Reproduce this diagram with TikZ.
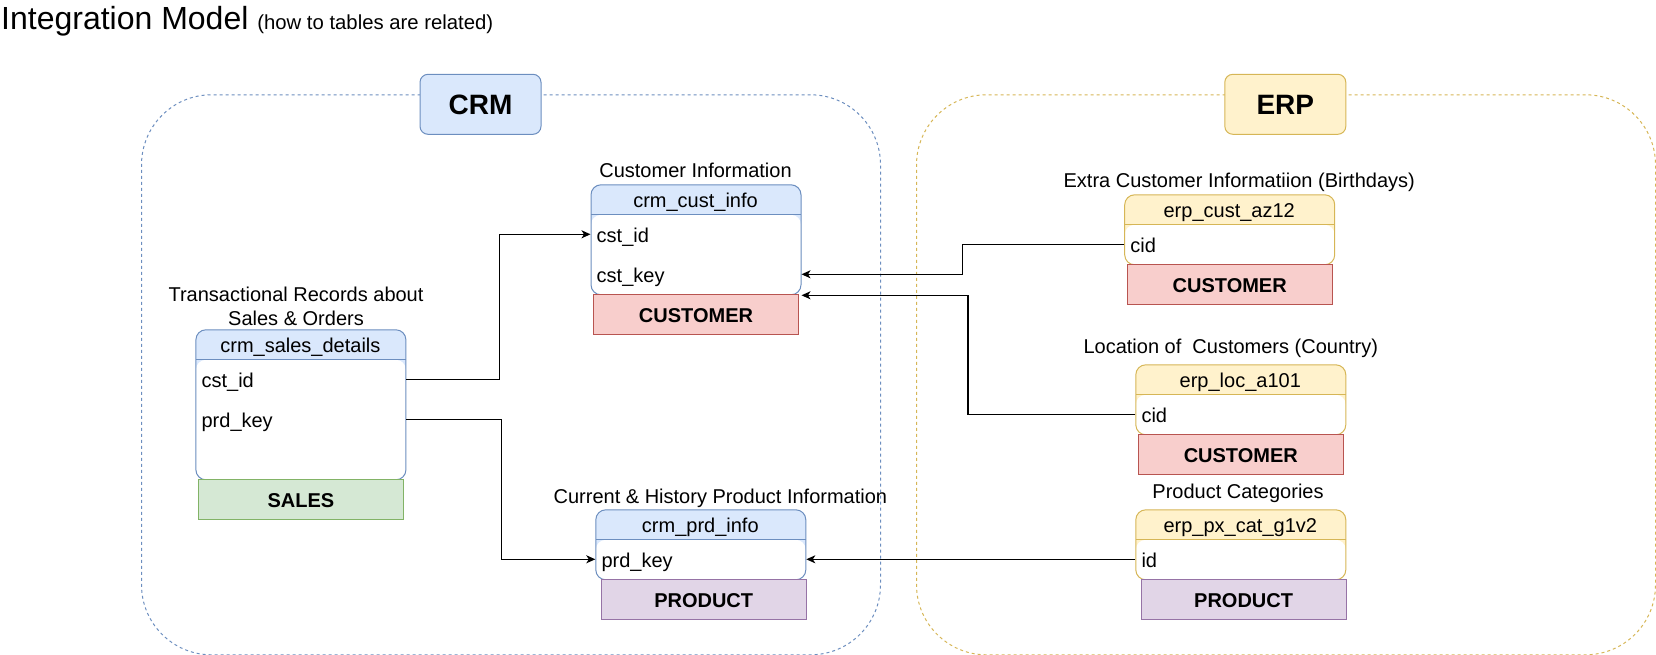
\documentclass[tikz,border=0pt]{standalone}
\usepackage{fontspec}
\setmainfont{Liberation Sans}
\usetikzlibrary{arrows.meta,calc}

\definecolor{bluefill}{HTML}{DAE8FC}
\definecolor{bluedraw}{HTML}{6C8EBF}
\definecolor{yellowfill}{HTML}{FFF2CC}
\definecolor{yellowdraw}{HTML}{D6B656}
\definecolor{redfill}{HTML}{F8CECC}
\definecolor{reddraw}{HTML}{B85450}
\definecolor{greenfill}{HTML}{D5E8D4}
\definecolor{greendraw}{HTML}{82B366}
\definecolor{purplefill}{HTML}{E1D5E7}
\definecolor{purpledraw}{HTML}{9673A6}

\tikzset{
  txt/.style={font=\fontsize{20}{24}\selectfont, inner sep=0pt},
  capt/.style={txt, anchor=base},
  container/.style={draw=#1, dash pattern=on 3pt off 3pt, line width=1pt,
    rounded corners=70pt, anchor=north west, inner sep=0pt,
    minimum width=739pt, minimum height=560pt},
  group label/.style 2 args={draw=#1, fill=#2, rounded corners=8pt,
    minimum width=121pt, minimum height=60pt, line width=1pt, inner sep=0pt,
    font=\fontsize{28}{32}\selectfont\bfseries, text height=20pt, text depth=0pt},
  dbtable/.style 2 args={draw=#1, fill=#2, rounded corners=10pt, line width=1pt,
    anchor=north west, inner sep=0pt, minimum width=210pt,
    path picture={
      \fill[white] ([yshift=-30pt]path picture bounding box.north west)
        rectangle (path picture bounding box.south east);
      \draw[#1, line width=1pt] ([yshift=-30pt]path picture bounding box.north west)
        -- ([yshift=-30pt]path picture bounding box.north east);
    }},
  hdr/.style={txt, text height=16pt, text depth=0pt},
  field/.style={txt, anchor=west, text height=16pt, text depth=0pt},
  entity/.style 2 args={draw=#1, fill=#2, minimum width=205pt, minimum height=40pt,
    anchor=north west, inner sep=0pt, line width=1pt,
    font=\fontsize{20}{24}\selectfont\bfseries, text height=16pt, text depth=0pt},
  link/.style={draw=black, line width=1.3pt,
    -{Stealth[length=9pt,width=8pt,inset=2.5pt]}},
}

\begin{document}
\begin{tikzpicture}[x=1pt,y=-1pt]
\useasboundingbox (0,0) rectangle (1656,655);

% heading
\node[anchor=base west, inner sep=0pt] (title) at (1,30)
  {\fontsize{32}{38}\selectfont Integration Model {\fontsize{20.3}{24}\selectfont (how to tables are related)}};

% source system groups
\node[container=bluedraw] (crm) at (141,94.3) {};
\node[container=yellowdraw] (erp) at (916,94.3) {};
\node[group label={bluedraw}{bluefill}] (crm-label) at (480.5,104.3) {CRM};
\node[group label={yellowdraw}{yellowfill}] (erp-label) at (1285.3,104.3) {ERP};

% CRM: customer info
\node[capt] (ci-cap) at (695.5,178) {Customer Information};
\node[dbtable={bluedraw}{bluefill}, minimum height=110pt] (ci) at (590.5,184.3) {};
\node[hdr] (ci-h) at (695.5,199.3) {crm\_cust\_info};
\node[field] (ci-f1) at (596.5,234.3) {cst\_id};
\node[field] (ci-f2) at (596.5,274.3) {cst\_key};
\node[entity={reddraw}{redfill}] (ci-e) at (593,294.3) {CUSTOMER};

% CRM: sales details
\node[capt] (sd-cap1) at (296,301.7) {Transactional Records about};
\node[capt] (sd-cap2) at (296,325) {Sales \& Orders};
\node[dbtable={bluedraw}{bluefill}, minimum height=150pt] (sd) at (195.4,329.3) {};
\node[hdr] (sd-h) at (300.4,344.3) {crm\_sales\_details};
\node[field] (sd-f1) at (201.4,379.3) {cst\_id};
\node[field] (sd-f2) at (201.4,419.3) {prd\_key};
\node[entity={greendraw}{greenfill}] (sd-e) at (197.9,479.3) {SALES};

% CRM: product info
\node[capt] (cp-cap) at (720.4,503) {Current \& History Product Information};
\node[dbtable={bluedraw}{bluefill}, minimum height=70pt] (cp) at (595.3,509.3) {};
\node[hdr] (cp-h) at (700.3,524.3) {crm\_prd\_info};
\node[field] (cp-f1) at (601.3,559.3) {prd\_key};
\node[entity={purpledraw}{purplefill}] (cp-e) at (600.7,579.3) {PRODUCT};

% ERP: extra customer info
\node[capt] (ec-cap) at (1239.2,188) {Extra Customer Informatiion (Birthdays)};
\node[dbtable={yellowdraw}{yellowfill}, minimum height=70pt] (ec) at (1124.2,194.3) {};
\node[hdr] (ec-h) at (1229.2,209.3) {erp\_cust\_az12};
\node[field] (ec-f1) at (1130.2,244.3) {cid};
\node[entity={reddraw}{redfill}] (ec-e) at (1126.7,264.3) {CUSTOMER};

% ERP: customer location
\node[capt] (el-cap) at (1230.8,353) {Location of\ \ Customers (Country)};
\node[dbtable={yellowdraw}{yellowfill}, minimum height=70pt] (el) at (1135.3,364.3) {};
\node[hdr] (el-h) at (1240.3,379.3) {erp\_loc\_a101};
\node[field] (el-f1) at (1141.3,414.3) {cid};
\node[entity={reddraw}{redfill}] (el-e) at (1137.8,434.3) {CUSTOMER};

% ERP: product categories
\node[capt] (ep-cap) at (1238,498) {Product Categories};
\node[dbtable={yellowdraw}{yellowfill}, minimum height=70pt] (ep) at (1135.3,509.3) {};
\node[hdr] (ep-h) at (1240.3,524.3) {erp\_px\_cat\_g1v2};
\node[field] (ep-f1) at (1141.3,559.3) {id};
\node[entity={purpledraw}{purplefill}] (ep-e) at (1140.6,579.3) {PRODUCT};

% relations
\draw[link] (sd.east |- sd-f1.west) -- ++(93,0) |- (ci.west |- ci-f1.west);
\draw[link] (sd.east |- sd-f2.west) -- ++(95,0) |- (cp.west |- cp-f1.west);
\draw[link] (ec.west |- ec-f1.west) -- ++(-161.5,0) |- (ci.east |- ci-f2.west);
\draw[link] (el.west |- el-f1.west) -- ++(-167.3,0) |- (ci.south east);
\draw[link] (ep.west |- ep-f1.west) -- (cp.east |- ep-f1.west);
\end{tikzpicture}
\end{document}
